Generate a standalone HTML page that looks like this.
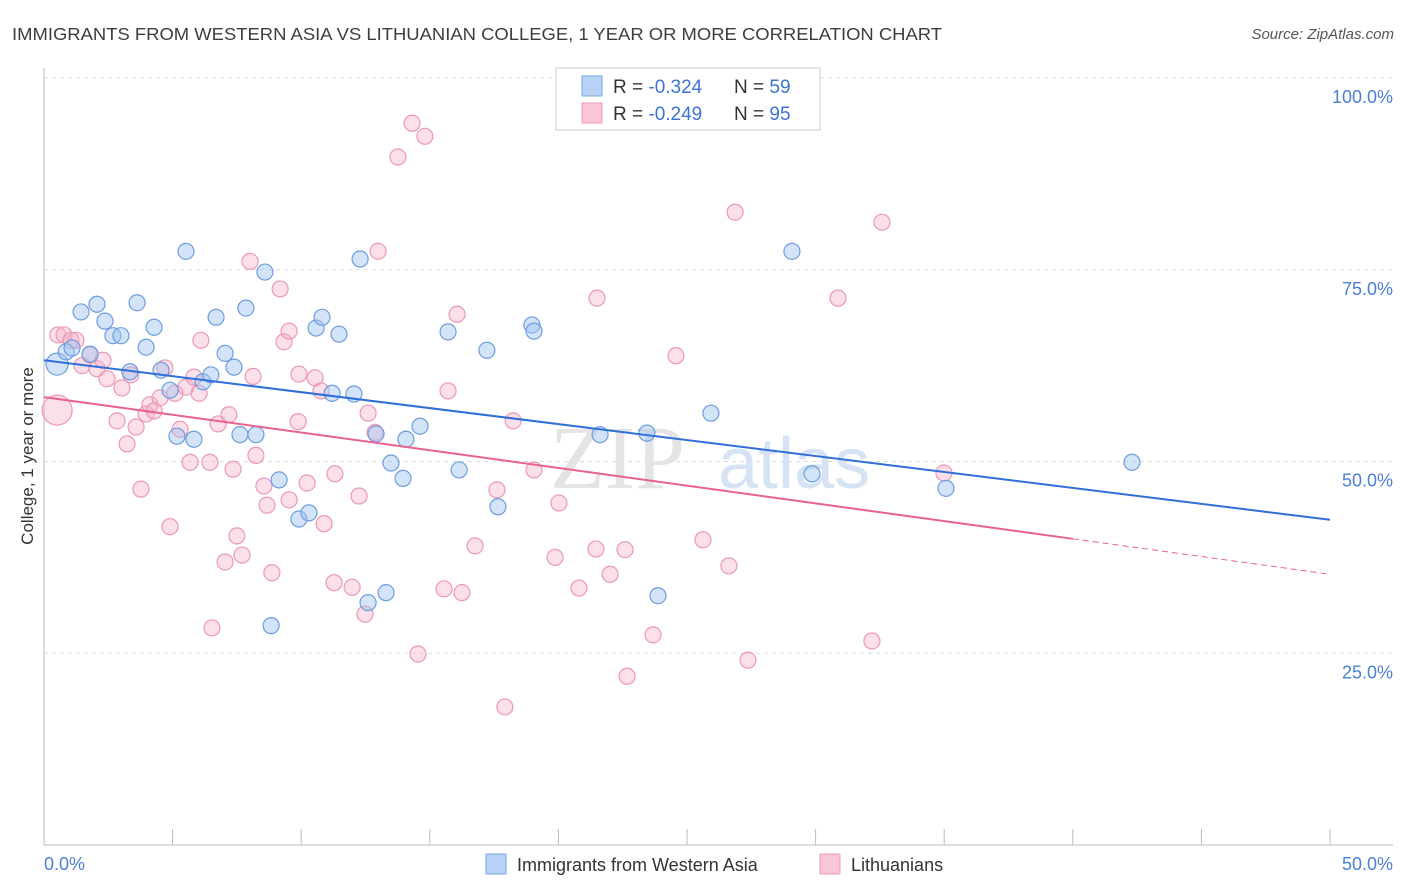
<!DOCTYPE html>
<html><head><meta charset="utf-8">
<style>
body{margin:0;background:#fff;font-family:"Liberation Sans",sans-serif;}
svg{display:block}
</style></head>
<body>
<svg id="chart" width="1406" height="892">
<text x="12" y="40" font-size="17.5" fill="#3d3d3d" textLength="930" lengthAdjust="spacingAndGlyphs">IMMIGRANTS FROM WESTERN ASIA VS LITHUANIAN COLLEGE, 1 YEAR OR MORE CORRELATION CHART</text>
<text x="1394" y="39" font-size="15" fill="#555" font-style="italic" text-anchor="end">Source: ZipAtlas.com</text>
<g id="grid"></g>
<text x="685" y="488" font-size="90" fill="#e4e4e4" text-anchor="end" font-family="Liberation Serif,serif">ZIP</text>
<text x="718" y="488" font-size="72" fill="#d6e3f4">atlas</text>
<g id="pts"></g>
<g id="lines"></g>
<g>
<rect x="556" y="68" width="264" height="62" fill="#fff" stroke="#ccc"/>
<rect x="582" y="76" width="20" height="20" fill="#b8d2f5" stroke="#7aa6e4"/>
<rect x="582" y="103" width="20" height="20" fill="#f9c6d6" stroke="#e99ab5"/>
<text x="613" y="93" font-size="19" fill="#333">R = <tspan fill="#3b74d6">-0.324</tspan></text>
<text x="734" y="93" font-size="19" fill="#333">N = <tspan fill="#3b74d6">59</tspan></text>
<text x="613" y="120" font-size="19" fill="#333">R = <tspan fill="#3b74d6">-0.249</tspan></text>
<text x="734" y="120" font-size="19" fill="#333">N = <tspan fill="#3b74d6">95</tspan></text>
</g>
<text transform="translate(33,456) rotate(-90)" font-size="17" fill="#333" text-anchor="middle">College, 1 year or more</text>
<text x="44" y="870" font-size="18" fill="#4a7fd6">0.0%</text>
<text x="1393" y="870" font-size="18" fill="#4a7fd6" text-anchor="end">50.0%</text>
<rect x="486" y="854" width="20" height="20" fill="#b8d2f5" stroke="#7aa6e4"/>
<text x="517" y="871" font-size="18" fill="#333">Immigrants from Western Asia</text>
<rect x="820" y="854" width="20" height="20" fill="#f9c6d6" stroke="#e99ab5"/>
<text x="851" y="871" font-size="18" fill="#333">Lithuanians</text>
</svg>
<script>
const yTicks=[25,50,75,100];
const yTickLabels=["25.0%","50.0%","75.0%","100.0%"];
const xTicks=[0,5,10,15,20,25,30,35,40,45,50];
const blueX=[0.51,0.86,1.44,2.06,2.37,2.68,2.99,3.62,3.97,4.28,4.55,4.90,5.17,5.52,5.83,6.18,6.49,6.69,7.04,7.39,7.62,7.85,8.24,8.59,9.14,9.91,10.30,10.58,10.81,11.20,11.47,12.05,12.29,12.60,12.91,13.30,13.49,13.96,14.07,14.62,15.71,16.14,17.22,17.65,18.97,19.05,21.62,23.44,23.87,25.93,29.08,29.86,35.07,42.30,3.34,1.79,1.09,8.83];
const blueY=[62.7,64.3,69.5,70.5,68.3,66.4,66.4,70.7,64.9,67.5,61.9,59.3,53.3,77.4,52.9,60.4,61.3,68.8,64.1,62.3,53.5,70.0,53.5,74.7,47.6,42.5,43.3,67.4,68.8,58.9,66.6,58.8,76.4,31.6,53.6,32.9,49.8,47.8,52.9,54.6,66.9,48.9,64.5,44.1,67.8,67.0,53.5,53.7,32.5,56.3,77.4,48.4,46.5,49.9,61.7,64.0,64.8,28.6];
const pinkX=[0.51,0.54,0.78,1.05,1.24,1.48,1.79,2.06,2.29,2.45,2.84,3.03,3.23,3.38,3.58,3.77,3.97,4.12,4.28,4.51,4.70,4.90,5.09,5.29,5.52,5.68,5.83,6.03,6.10,6.45,6.53,6.77,7.04,7.19,7.35,7.50,7.70,8.01,8.13,8.24,8.55,8.67,8.86,9.18,9.33,9.53,9.53,9.91,9.88,10.23,10.54,10.77,10.89,11.28,11.31,11.98,12.25,12.48,12.60,12.87,12.99,13.76,14.31,14.81,14.54,15.55,15.71,16.06,16.25,16.76,17.61,17.92,18.24,19.05,19.87,20.02,20.80,21.46,21.50,22.01,22.59,22.67,23.68,24.57,25.62,26.63,26.87,27.37,30.87,32.19,32.58,34.99];
const pinkY=[56.7,66.5,66.5,65.8,65.8,62.5,63.9,62.1,63.2,60.8,55.3,59.6,52.3,61.3,54.5,46.4,56.2,57.4,56.6,58.3,62.2,41.5,58.9,54.2,59.7,49.9,61.0,58.9,65.8,49.9,28.3,54.9,36.9,56.1,49.0,40.3,37.8,76.1,61.1,50.8,46.8,44.3,35.5,72.5,65.6,67.0,45.0,61.4,55.2,47.2,60.9,59.2,41.9,34.2,48.4,33.6,45.5,30.1,56.3,53.8,77.4,89.7,94.1,92.4,24.9,33.4,59.2,69.2,32.9,39.0,46.3,18.0,55.3,48.9,37.5,44.6,33.5,38.6,71.3,35.3,38.5,22.0,27.4,63.8,39.8,36.4,82.5,24.1,71.3,26.6,81.2,48.5];
const blueTrend=[63.2,42.4];
const pinkTrend=[58.4,35.3];
const pinkSolidEnd=40;

const NS="http://www.w3.org/2000/svg";
const X=v=>44+v*25.72;
const Y=v=>845-v*7.67;
function mk(t,a,p){const e=document.createElementNS(NS,t);for(const k in a)e.setAttribute(k,a[k]);p.appendChild(e);return e;}
const grid=document.getElementById('grid');
yTicks.forEach((t,i)=>{
  const l=mk('line',{x1:44,x2:1393,y1:Y(t),y2:Y(t),stroke:'#dcdcdc','stroke-dasharray':'4,4'},grid);
  
  
  const tx=mk('text',{x:1393,y:Y(t)+25,'font-size':18,fill:'#4a7fd6','text-anchor':'end'},grid);
  tx.textContent=yTickLabels[i];
  
  
});
const ax=mk('line',{x1:44,x2:44,y1:68,y2:845,stroke:'#bbb'},grid);


const bx=mk('line',{x1:44,x2:1393,y1:845,y2:845,stroke:'#bbb'},grid);


xTicks.forEach(t=>{
  const l=mk('line',{x1:X(t),x2:X(t),y1:829,y2:845,stroke:'#bbb'},grid);
  
  
});
const pts=document.getElementById('pts');
pinkX.forEach((v,i)=>{
  const c=mk('circle',{cx:X(v),cy:Y(pinkY[i]),r:i==0?15:8,fill:'rgba(246,176,200,0.4)',stroke:'#eb98b5','stroke-width':1.2},pts);
  
  
});
blueX.forEach((v,i)=>{
  const c=mk('circle',{cx:X(v),cy:Y(blueY[i]),r:i==0?11:8,fill:'rgba(160,195,240,0.45)',stroke:'#6d9de0','stroke-width':1.2},pts);
  
  
});
const lines=document.getElementById('lines');
const bl=mk('line',{x1:X(0),y1:Y(blueTrend[0]),x2:X(50),y2:Y(blueTrend[1]),stroke:'#2e6fd8','stroke-width':2},lines);


const pAt=x=>pinkTrend[0]+(pinkTrend[1]-pinkTrend[0])*x/50;
const pl=mk('line',{x1:X(0),y1:Y(pAt(0)),x2:X(pinkSolidEnd),y2:Y(pAt(pinkSolidEnd)),stroke:'#e8628f','stroke-width':2},lines);


const pd=mk('line',{x1:X(pinkSolidEnd),y1:Y(pAt(pinkSolidEnd)),x2:X(50),y2:Y(pAt(50)),stroke:'#e8628f','stroke-width':1,'stroke-dasharray':'6,4'},lines);


</script>
</body></html>
